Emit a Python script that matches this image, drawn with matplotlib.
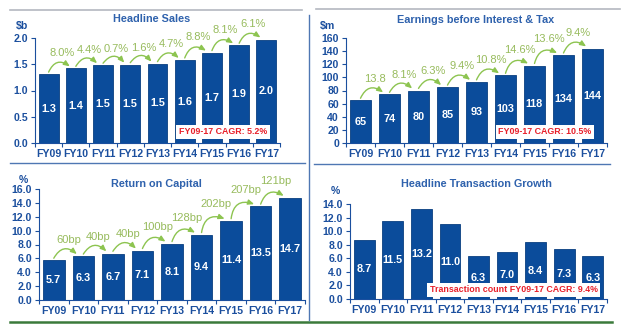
"""Four-panel FY09-FY17 performance summary (bar charts with growth arcs)."""
import matplotlib.pyplot as plt
from matplotlib.lines import Line2D

plt.rcParams["font.family"] = ["Liberation Sans", "DejaVu Sans"]

years = ["FY09", "FY10", "FY11", "FY12", "FY13", "FY14", "FY15", "FY16", "FY17"]

sales = [1.31, 1.42, 1.48, 1.49, 1.51, 1.58, 1.72, 1.86, 1.97]
sales_growth = ["8.0%", "4.4%", "0.7%", "1.6%", "4.7%", "8.8%", "8.1%", "6.1%"]

ebit = [65, 74, 80, 85, 93, 103, 118, 134, 144]
ebit_growth = ["13.8", "8.1%", "6.3%", "9.4%", "10.8%", "14.6%", "13.6%", "9.4%"]

roc = [5.7, 6.3, 6.7, 7.1, 8.1, 9.4, 11.4, 13.5, 14.7]
roc_growth = ["60bp", "40bp", "40bp", "100bp", "128bp", "202bp", "207bp", "121bp"]

txn = [8.7, 11.5, 13.2, 11.0, 6.3, 7.0, 8.4, 7.3, 6.3]

BAR = "#0b4c9b"
TICK = "#1b4f9e"
TITLE = "#2f62ad"
ARC = "#8dc450"
ARC_TXT = "#97bb5c"
RED = "#e8202a"

W, H = 628, 333
fig = plt.figure(figsize=(W / 100, H / 100), dpi=100)
fig.patch.set_facecolor("white")


def px_axes(l, t, r, b):
    return fig.add_axes([l / W, (H - b) / H, (r - l) / W, (b - t) / H])


def bar_panel(ax, vals, fmt, ymax, ystep, tickfmt, xlim):
    x = list(range(len(vals)))
    ax.bar(x, vals, width=0.73, color=BAR, edgecolor="#0a3f80", linewidth=0.6, zorder=2)
    for xi, v in zip(x, vals):
        ax.text(xi, v / 2, fmt.format(v), ha="center", va="center", color="white",
                fontsize=7.8, fontweight="bold", zorder=3)
    ax.set_xlim(*xlim)
    ax.set_ylim(0, ymax)
    ticks = [i * ystep for i in range(int(round(ymax / ystep)) + 1)]
    ax.set_yticks(ticks)
    ax.set_yticklabels([tickfmt.format(t) for t in ticks])
    ax.set_xticks(x)
    ax.set_xticklabels(years)
    ax.set_xticks([i - 0.5 for i in range(len(vals) + 1)], minor=True)
    ax.tick_params(axis="x", which="major", length=0, pad=4)
    ax.tick_params(axis="x", which="minor", length=3, color=TICK, width=0.8)
    ax.tick_params(axis="y", length=3, color=TICK, width=0.8, pad=2)
    for lab in ax.get_xticklabels() + ax.get_yticklabels():
        lab.set_color(TICK)
        lab.set_fontsize(7.6)
        lab.set_fontweight("bold")
    for s in ["top", "right"]:
        ax.spines[s].set_visible(False)
    for s in ["left", "bottom"]:
        ax.spines[s].set_color(TICK)
        ax.spines[s].set_linewidth(0.8)


def growth_arcs(ax, vals, labels, ymax):
    for i, lab in enumerate(labels):
        y0 = vals[i] + 0.02 * ymax
        y1 = vals[i + 1] + 0.02 * ymax
        ax.annotate("", xy=(i + 0.78, y1), xytext=(i, y0),
                    arrowprops=dict(arrowstyle="-|>,head_length=0.35,head_width=0.15",
                                    color=ARC, lw=1.0,
                                    connectionstyle="arc3,rad=-0.6",
                                    shrinkA=0, shrinkB=0),
                    annotation_clip=False, zorder=4)
        ax.text(i + 0.5, max(vals[i], vals[i + 1]) + 0.15 * ymax, lab,
                ha="center", va="center", color=ARC_TXT, fontsize=8,
                clip_on=False, zorder=4)


def cagr_box(ax, x, y, text):
    ax.text(x, y, text, ha="center", va="center", color=RED, fontsize=6.4,
            fontweight="bold", zorder=5,
            bbox=dict(boxstyle="square,pad=0.3", fc="white", ec="none"))


# top left: headline sales
ax1 = px_axes(35, 38, 280, 143)
bar_panel(ax1, sales, "{:.1f}", 2.0, 0.5, "{:.1f}", (-0.5, 8.5))
growth_arcs(ax1, sales, sales_growth, 2.0)
cagr_box(ax1, 6.4, 0.21, "FY09-17 CAGR: 5.2%")

# top right: EBIT
ax2 = px_axes(346, 38, 607, 143)
bar_panel(ax2, ebit, "{:.0f}", 160, 20, "{:.0f}", (-0.42, 8.5))
growth_arcs(ax2, ebit, ebit_growth, 160)
cagr_box(ax2, 6.36, 16.8, "FY09-17 CAGR: 10.5%")

# bottom left: return on capital
ax3 = px_axes(39, 189, 305, 300)
bar_panel(ax3, roc, "{:.1f}", 16.0, 2.0, "{:.1f}", (-0.5, 8.5))
growth_arcs(ax3, roc, roc_growth, 16.0)

# bottom right: transaction growth
ax4 = px_axes(350, 204, 607, 299)
bar_panel(ax4, txn, "{:.1f}", 14.0, 2.0, "{:.1f}", (-0.5, 8.5))
cagr_box(ax4, 5.23, 1.33, "Transaction count FY09-17 CAGR: 9.4%")

# titles and units
tkw = dict(ha="center", va="center", color=TITLE, fontsize=7.8, fontweight="bold")
fig.text(152 / W, 1 - 19 / H, "Headline Sales", **tkw)
fig.text(476 / W, 1 - 20 / H, "Earnings before Interest & Tax", **tkw)
fig.text(156 / W, 1 - 184 / H, "Return on Capital", **tkw)
fig.text(476 / W, 1 - 184 / H, "Headline Transaction Growth", **tkw)

ukw = dict(ha="center", va="center", color=TICK, fontsize=7.6, fontweight="bold")
fig.text(22 / W, 1 - 26 / H, "$b", **ukw)
fig.text(327 / W, 1 - 26 / H, "$m", **ukw)
fig.text(23 / W, 1 - 180 / H, "%", **ukw)
fig.text(335 / W, 1 - 191 / H, "%", **ukw)


# separator lines
def hline(y, x0, x1, color, lw):
    fig.add_artist(Line2D([x0 / W, x1 / W], [1 - y / H, 1 - y / H], color=color, lw=lw))


hline(10, 10, 302, "#b4b8c0", 1.2)
hline(9, 316, 620, "#b4b8c0", 1.2)
hline(163, 10, 305, "#4f77b3", 1.0)
hline(164, 314, 610, "#4f77b3", 1.0)
hline(322, 10, 612, "#3b7a3b", 1.8)
fig.add_artist(Line2D([309 / W, 309 / W], [1 - 15 / H, 1 - 320 / H], color="#4f77b3", lw=1.0))

fig.savefig("out.png", dpi=100, facecolor="white")
